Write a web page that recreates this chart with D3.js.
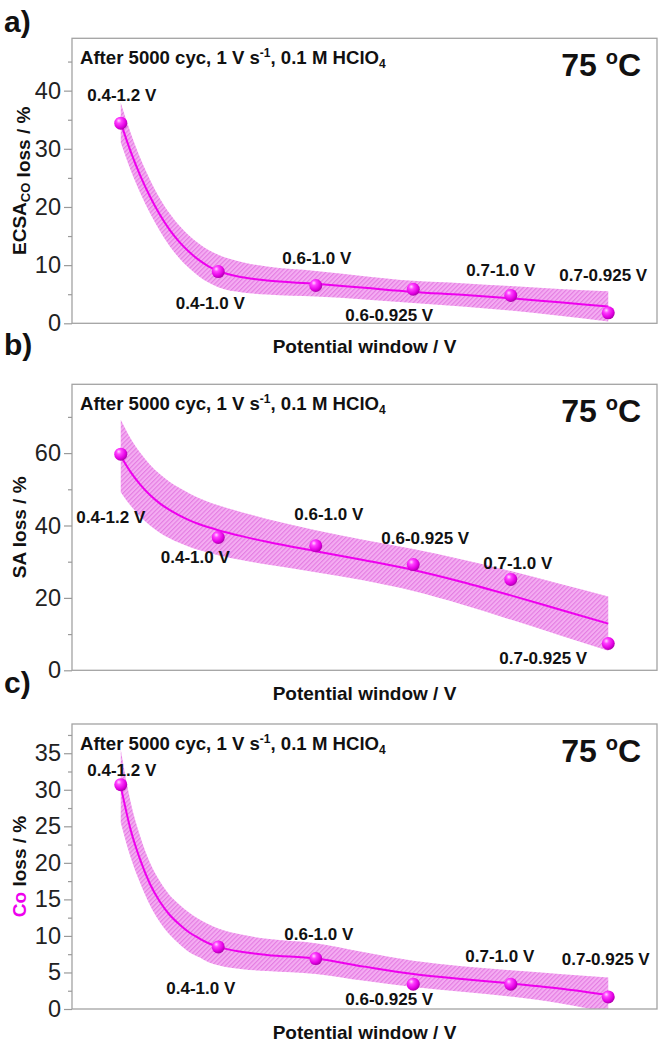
<!DOCTYPE html>
<html>
<head>
<meta charset="utf-8">
<script src="https://cdn.jsdelivr.net/npm/d3@7/dist/d3.min.js"></script>
<style>
  html, body { margin: 0; padding: 0; background: #fff; }
  svg { display: block; font-family: "Liberation Sans", Arial, sans-serif; }
</style>
</head>
<body>
<svg id="chart" width="666" height="1056"></svg>
<script>
// ---------------- DATA ----------------
const windows = ["0.4-1.2 V", "0.4-1.0 V", "0.6-1.0 V", "0.6-0.925 V", "0.7-1.0 V", "0.7-0.925 V"];
const xIndex = [1, 2, 3, 4, 5, 6];

const ecsaLoss = [34.4, 8.9, 6.5, 5.85, 4.8, 1.8];
const saLoss   = [59.7, 36.7, 34.4, 29.2, 25.1, 7.4];
const coLoss   = [30.7, 8.5, 6.9, 3.4, 3.4, 1.65];

// fitted curve and confidence band at these x positions
const fitX = [1, 1.1, 1.2, 1.3, 1.4, 1.5, 1.6, 1.7, 1.8, 1.9, 2, 2.25, 2.5, 3, 3.5, 4, 4.5, 5, 5.5, 6];

const ecsaFit   = [34.5, 29.6, 25.4, 21.8, 18.7, 16.1, 14.0, 12.3, 10.9, 9.8, 9.0, 7.9, 7.35, 6.8, 6.1, 5.4, 4.9, 4.3, 3.6, 2.9];
const ecsaUpper = [37.9, 32.8, 28.4, 24.7, 21.5, 18.9, 16.8, 15.1, 13.7, 12.6, 11.8, 10.5, 9.75, 9.0, 8.1, 7.3, 6.9, 6.4, 5.9, 5.5];
const ecsaLower = [31.1, 26.4, 22.4, 18.9, 15.9, 13.3, 11.2, 9.5, 8.1, 7.0, 6.2, 5.3, 4.95, 4.6, 4.1, 3.5, 2.9, 2.2, 1.3, 0.3];

const saFit   = [59.2, 54.8, 51.3, 48.4, 46.1, 44.3, 42.8, 41.5, 40.4, 39.5, 38.7, 37.0, 35.5, 32.9, 30.4, 27.7, 24.4, 20.7, 16.8, 12.9];
const saUpper = [69.2, 64.1, 60.1, 56.8, 54.2, 52.1, 50.4, 48.9, 47.6, 46.5, 45.6, 43.6, 41.8, 38.7, 36.0, 33.5, 30.6, 27.4, 23.9, 20.4];
const saLower = [49.2, 45.5, 42.5, 40.0, 38.0, 36.5, 35.2, 34.1, 33.2, 32.5, 31.8, 30.4, 29.2, 27.1, 24.8, 21.9, 18.2, 14.0, 9.7, 5.4];

const coFit   = [30.5, 24.6, 20.4, 17.1, 14.7, 12.9, 11.6, 10.5, 9.7, 9.0, 8.5, 7.8, 7.4, 6.9, 5.8, 4.8, 4.1, 3.5, 2.8, 1.9];
const coUpper = [35.5, 28.4, 23.6, 20.0, 17.5, 15.6, 14.3, 13.2, 12.3, 11.6, 11.0, 10.15, 9.6, 9.0, 7.75, 6.6, 5.85, 5.3, 4.8, 4.3];
const coLower = [25.5, 20.8, 17.2, 14.2, 11.9, 10.2, 8.9, 7.8, 7.1, 6.4, 6.0, 5.45, 5.2, 4.8, 3.85, 3.0, 2.35, 1.7, 0.8, -0.5];

const ecsaTicks = [0, 10, 20, 30, 40];
const ecsaMinor = [5, 15, 25, 35, 45];
const saTicks = [0, 20, 40, 60];
const saMinor = [10, 30, 50, 70];
const coTicks = [0, 5, 10, 15, 20, 25, 30, 35];
const coMinor = [2.5, 7.5, 12.5, 17.5, 22.5, 27.5, 32.5, 37.5];

const xDomain = [0.5, 6.5];
const ecsaDomain = [0, 49];
const saDomain = [0, 79];
const coDomain = [0, 39];

// ---------------- LAYOUT ----------------
const MAG = "#ee00ee";
const plotLeft = 72, plotRight = 657;

const panels = [
  {
    letter: "a)", letterY: 32, top: 38.3, bottom: 323.3,
    domain: ecsaDomain, ticks: ecsaTicks, minor: ecsaMinor,
    values: ecsaLoss, fit: ecsaFit, upper: ecsaUpper, lower: ecsaLower,
    ytitle: [{t: "ECSA"}, {t: "CO", sub: true}, {t: " loss / %"}],
    labelOff: [[1, -22], [-8, 37], [1, -21], [-24, 32], [-10, -19], [-5, -32]]
  },
  {
    letter: "b)", letterY: 355, top: 384.3, bottom: 670.3,
    domain: saDomain, ticks: saTicks, minor: saMinor,
    values: saLoss, fit: saFit, upper: saUpper, lower: saLower,
    ytitle: [{t: "SA loss / %"}],
    labelOff: [[-10, 69], [-23, 26], [13, -26], [12, -21], [7, -10], [-65, 20]]
  },
  {
    letter: "c)", letterY: 693, top: 724, bottom: 1009,
    domain: coDomain, ticks: coTicks, minor: coMinor,
    values: coLoss, fit: coFit, upper: coUpper, lower: coLower,
    ytitle: [{t: "Co", color: MAG}, {t: " loss / %"}],
    labelOff: [[1, -9], [-17.5, 47], [3, -19], [-24, 21], [-11, -22], [-2.5, -32]]
  }
];

const svg = d3.select("#chart");
const defs = svg.append("defs");

// hatch pattern for the band
const pat = defs.append("pattern")
  .attr("id", "hatch").attr("patternUnits", "userSpaceOnUse")
  .attr("width", 3.2).attr("height", 3.2)
  .attr("patternTransform", "rotate(45)");
pat.append("rect").attr("width", 3.2).attr("height", 3.2).attr("fill", "#f4adf2");
pat.append("line").attr("x1", 0.6).attr("y1", 0).attr("x2", 0.6).attr("y2", 3.2)
  .attr("stroke", "#e276e0").attr("stroke-width", 1);

// sphere gradient
const grad = defs.append("radialGradient").attr("id", "sphere")
  .attr("cx", "38%").attr("cy", "35%").attr("r", "65%").attr("fx", "35%").attr("fy", "30%");
grad.append("stop").attr("offset", "0%").attr("stop-color", "#ffd6ff");
grad.append("stop").attr("offset", "30%").attr("stop-color", "#ff40ff");
grad.append("stop").attr("offset", "75%").attr("stop-color", "#e400e4");
grad.append("stop").attr("offset", "100%").attr("stop-color", "#b000b0");

const x = d3.scaleLinear().domain(xDomain).range([plotLeft, plotRight]);

panels.forEach((p, pi) => {
  const y = d3.scaleLinear().domain(p.domain).range([p.bottom, p.top]);
  const g = svg.append("g");

  const clipId = "clip" + pi;
  defs.append("clipPath").attr("id", clipId).append("rect")
    .attr("x", plotLeft).attr("y", p.top)
    .attr("width", plotRight - plotLeft).attr("height", p.bottom - p.top);

  // panel letter
  g.append("text").attr("x", 4).attr("y", p.letterY)
    .attr("font-size", 30).attr("font-weight", "bold").attr("fill", "#111").text(p.letter);

  // band
  const bandData = fitX.map((xv, i) => ({x: xv, lo: p.lower[i], hi: p.upper[i], f: p.fit[i]}));
  const area = d3.area().x(d => x(d.x)).y0(d => y(d.lo)).y1(d => y(d.hi)).curve(d3.curveMonotoneX);
  g.append("path").datum(bandData).attr("d", area)
    .attr("fill", "url(#hatch)").attr("clip-path", `url(#${clipId})`);

  // fit line
  const line = d3.line().x(d => x(d.x)).y(d => y(d.f)).curve(d3.curveMonotoneX);
  g.append("path").datum(bandData).attr("d", line)
    .attr("fill", "none").attr("stroke", MAG).attr("stroke-width", 2)
    .attr("clip-path", `url(#${clipId})`);

  // frame
  g.append("rect").attr("x", plotLeft).attr("y", p.top)
    .attr("width", plotRight - plotLeft).attr("height", p.bottom - p.top)
    .attr("fill", "none").attr("stroke", "#a3a3a3").attr("stroke-width", 1.3);

  // y axis major
  const ax = g.append("g").attr("transform", `translate(${plotLeft},0)`)
    .call(d3.axisLeft(y).tickValues(p.ticks).tickSize(8).tickPadding(3).tickFormat(d3.format("d")));
  ax.select(".domain").remove();
  ax.selectAll(".tick line").attr("stroke", "#9a9a9a").attr("stroke-width", 1.2);
  ax.selectAll(".tick text").attr("font-size", 23.5).attr("fill", "#222")
    .attr("font-family", "'Liberation Sans', Arial, sans-serif");
  // y axis minor
  const axm = g.append("g").attr("transform", `translate(${plotLeft},0)`)
    .call(d3.axisLeft(y).tickValues(p.minor).tickSize(4).tickFormat(""));
  axm.select(".domain").remove();
  axm.selectAll(".tick line").attr("stroke", "#9a9a9a").attr("stroke-width", 1.2);

  // y title
  const cy = (p.top + p.bottom) / 2;
  const yt = g.append("text").attr("transform", `translate(26,${cy}) rotate(-90)`)
    .attr("text-anchor", "middle").attr("font-size", 19).attr("font-weight", "bold").attr("fill", "#111");
  p.ytitle.forEach(part => {
    if (part.sub) {
      yt.append("tspan").attr("font-size", 13).attr("dy", 4).text(part.t);
      yt.append("tspan").attr("dy", -4).text("");
    } else {
      const ts = yt.append("tspan").text(part.t);
      if (part.color) ts.attr("fill", part.color);
    }
  });

  // x title
  g.append("text").attr("x", 364.5).attr("y", p.bottom + 30).attr("text-anchor", "middle")
    .attr("font-size", 19).attr("font-weight", "bold").attr("fill", "#111")
    .text("Potential window / V");

  // subtitle
  const st = g.append("text").attr("x", 80).attr("y", p.top + 26)
    .attr("font-size", 18.6).attr("font-weight", "bold").attr("fill", "#111");
  st.append("tspan").text("After 5000 cyc, 1 V s");
  st.append("tspan").attr("font-size", 12).attr("dy", -7).text("-1");
  st.append("tspan").attr("dy", 7).text(", 0.1 M HClO");
  st.append("tspan").attr("font-size", 12).attr("dy", 4).text("4");

  // temperature
  const tt = g.append("text").attr("x", 641).attr("y", p.top + 38).attr("text-anchor", "end")
    .attr("font-size", 32).attr("font-weight", "bold").attr("fill", "#111");
  tt.append("tspan").text("75 ");
  tt.append("tspan").attr("font-size", 20).attr("dy", -12).text("o");
  tt.append("tspan").attr("dy", 12).text("C");

  // points
  g.selectAll("circle.pt").data(xIndex).enter().append("circle")
    .attr("class", "pt")
    .attr("cx", d => x(d)).attr("cy", (d, i) => y(p.values[i]))
    .attr("r", 6.5).attr("fill", "url(#sphere)");

  // point labels
  g.selectAll("text.lbl").data(windows).enter().append("text")
    .attr("class", "lbl")
    .attr("x", (d, i) => x(xIndex[i]) + p.labelOff[i][0])
    .attr("y", (d, i) => y(p.values[i]) + p.labelOff[i][1])
    .attr("text-anchor", "middle").attr("font-size", 17).attr("font-weight", "bold")
    .attr("fill", "#111").text(d => d);
});
</script>
</body>
</html>
